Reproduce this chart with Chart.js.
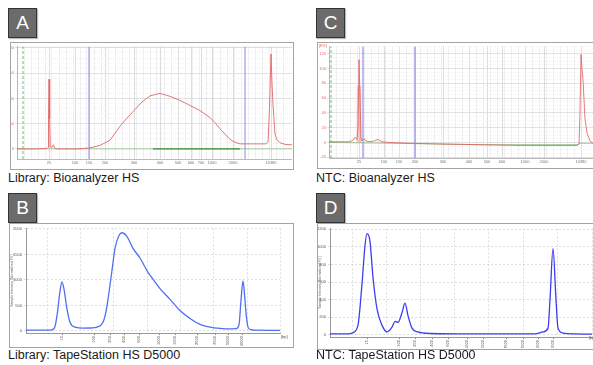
<!DOCTYPE html>
<html>
<head>
<meta charset="utf-8">
<script src="https://cdn.jsdelivr.net/npm/chart.js@4/dist/chart.umd.min.js"></script>
<style>
body{margin:0;background:#fff;font-family:"Liberation Sans",Arial,sans-serif;}
#wrap{position:relative;width:593px;height:365px;overflow:hidden;}
.tag{position:absolute;width:27px;height:28px;background:#6b6b6b;border:1px solid #333;color:#fff;font-size:19px;line-height:28px;text-align:center;box-shadow:1px 1px 1px #bbb;}
.frame{position:absolute;border:1px solid #a4a4a4;background:#fff;}
.cap{position:absolute;font-size:12.5px;color:#1a1a1a;white-space:nowrap;}
.tiny{position:absolute;font-size:4px;white-space:nowrap;}
canvas{position:absolute;}
</style>
</head>
<body>
<div id="wrap">
  <div class="tag" style="left:8px;top:8px">A</div>
  <div class="tag" style="left:316px;top:8px">C</div>
  <div class="tag" style="left:8px;top:193px">B</div>
  <div class="tag" style="left:316px;top:193px">D</div>

  <div class="frame" style="left:10px;top:42px;width:282px;height:126px"></div>
  <div class="frame" style="left:317px;top:42px;width:280px;height:125px"></div>
  <div class="frame" style="left:9px;top:223px;width:283px;height:123px"></div>
  <div class="frame" style="left:317px;top:223px;width:280px;height:125px"></div>

  <canvas id="chartA" width="281" height="125" style="left:11px;top:43px"></canvas>
  <canvas id="chartC" width="275" height="124" style="left:318px;top:43px"></canvas>
  <canvas id="chartB" width="282" height="122" style="left:10px;top:224px"></canvas>
  <canvas id="chartD" width="275" height="124" style="left:318px;top:224px"></canvas>

  <div class="tiny" style="left:319px;top:43px;color:#e06060">[FU]</div>
  <div class="tiny" style="left:281px;top:334px;color:#555">[bp]</div>
  <div class="tiny" style="left:589px;top:335px;color:#555">[bp]</div>

  <div class="cap" style="left:8px;top:171px">Library: Bioanalyzer HS</div>
  <div class="cap" style="left:316px;top:171px">NTC: Bioanalyzer HS</div>
  <div class="cap" style="left:8px;top:348px">Library: TapeStation HS D5000</div>
  <div class="cap" style="left:316px;top:348px">NTC: TapeStation HS D5000</div>
</div>
<script>
// x values are migration positions, y values are FU

// A - library on Bioanalyzer HS
const libBa = [[0,0],[20,0],[30,1],[31,3],[31.5,70],[32,138],[32.7,60],[33.3,4],[35,3],[36.5,8],[37.5,2],[40,0],[60,0],
  [73,2],[83,7],[93,17],[103,45],[110,61],[117,76],[125,93],[133,105],[143,110],[153,104],[163,96],[173,86],[183,76],
  [193,62],[198,52],[203,40],[208,29],[213,19],[218,13],[223,10],[235,10],[249,10],[251,14],[252.5,80],[254,188],
  [255,130],[256,87],[258,29],[260,18],[263,12],[268,9],[275,8]]
const baseA = [[0,0],[275,0]]
const regionA = [[136,0],[223,0]]
const markA = [72, 228]
const startA = 6
const tickPosA = [32,58,72,88,117,143,161,174,184,195,216,254]
const tickLabA = ['25','100','150','200','300','400','500','600','700','1000','2000','10380']
const yTickA = [0,50,100,150,200]

// C - NTC on Bioanalyzer HS
const ntcBa = [[0,1],[10,1],[20,1],[24,3],[26,7],[28,4],[29,20],[30,112],[31,60],[32,6],[33,2],[35,5],[37,2],[40,1],
  [45,2],[49,4],[53,1],[60,0],[80,-1],[110,-2],[150,-3],[190,-4],[230,-4],[248,-4],[250,-2],[251,40],[252,119],
  [253,100],[254,85],[256,32],[258,13],[261,2],[264,-1]]
const ntcFill = [[27.7,0],[28.3,76],[31.3,76],[31.7,0]]
const baseC = [[0,0],[60,-1],[150,-3],[248,-3],[252,-1],[264,-1]]
const markC = [34, 86]
const startC = 2
const tickPosC = [30,55,70,86,114,140,158,173,196,215,252]
const tickLabC = ['25','100','150','200','300','400','500','600','1000','2000','10380']
const yTickC = [-20,0,20,40,60,80,100,120]

// B - library on TapeStation HS D5000
const libTs = [[0,15],[20,15],[26,20],[29,90],[31,300],[34,775],[36,962],[38,820],[41,430],[44,170],[49,75],[57,55],
  [65,58],[71,75],[77,170],[80,380],[82,620],[86,1190],[89,1620],[93,1870],[96,1925],[101,1850],[107,1620],[114,1430],
  [122,1150],[124,1095],[134,830],[144,620],[154,400],[164,245],[174,130],[184,75],[194,50],[204,40],[210,45],
  [213,120],[215,600],[217,980],[219,600],[220,360],[222,75],[225,25],[229,15],[254,12]]
const tickPosB = [36,68,84,98,113,133,149,171,189,202,216]
const gridB = [21,54,87,121,154,187,221,254]
const yTickB = [0,500,1000,1500,2000]

// D - NTC on TapeStation HS D5000
const ntcTs = [[0,10],[18,10],[23,25],[28,110],[32,580],[35,1015],[37,1150],[40,1060],[43,655],[47,295],[52,110],
  [57,33],[62,87],[65,153],[68,142],[72,250],[75,360],[78,218],[82,76],[88,33],[100,15],[150,10],[205,10],[213,33],
  [218,76],[220,400],[223,980],[226,400],[228,76],[233,20],[245,10],[262,8]]
const tickPosD = [37,69,85,102,118,137,153,176,193,208,223]
const gridD = [22,56,90,124,158,193,227,262]
const yTickD = [0,200,400,600,800,1000,1200]

const tickLabTs = ['15','100','250','400','600','1000','1500','2500','3500','5000','10000']


const pts = a => a.map(p => ({x: p[0], y: p[1]}))
const setTicks = vals => s => { s.ticks = vals.map(v => ({value: v})) }
const line = (data, color, width, order, extra) => Object.assign({
  data: pts(data), borderColor: color, borderWidth: width, pointRadius: 0, tension: 0, order: order
}, extra || {})
const vline = (x, y0, y1, color, width, dash) => ({
  data: [{x: x, y: y0}, {x: x, y: y1}], borderColor: color, borderWidth: width,
  borderDash: dash || [], pointRadius: 0, order: 6
})

function baOptions(xmax, ymin, ymax, tickPos, tickLab, yTicks, yw, minorY){
  return {
    responsive: false,
    animation: false,
    layout: {padding: {top: 1, right: 0, left: 0, bottom: 0}},
    plugins: {legend: {display: false}, tooltip: {enabled: false}},
    scales: {
      x: {
        type: 'linear', min: 0, max: xmax,
        afterBuildTicks: setTicks(tickPos),
        afterFit: s => { s.height = 9 },
        ticks: {autoSkip: false, maxRotation: 0, padding: 1, color: '#777', font: {size: 4},
          callback: v => tickLab[tickPos.indexOf(v)]},
        grid: {color: '#cbcbd3', lineWidth: 0.7, drawTicks: false},
        border: {color: '#bbb'}
      },
      xm: {
        type: 'linear', min: 0, max: xmax, position: 'bottom',
        afterFit: s => { s.height = 0 },
        ticks: {display: false, stepSize: 7},
        grid: {color: '#e6e6ea', lineWidth: 0.6, drawTicks: false},
        border: {display: false}
      },
      y: {
        min: ymin, max: ymax,
        afterBuildTicks: setTicks(yTicks),
        afterFit: s => { s.width = yw },
        ticks: {padding: 1, color: '#e06a6a', font: {size: 4}, callback: v => String(v)},
        grid: {color: '#d0d0d0', lineWidth: 0.7, drawTicks: true, tickLength: 2},
        border: {color: '#e8a0a0', width: 1}
      },
      ym: {
        min: ymin, max: ymax, position: 'left',
        afterFit: s => { s.width = 0 },
        ticks: {display: false, stepSize: minorY},
        grid: {color: '#ececec', lineWidth: 0.6, drawTicks: false},
        border: {display: false, dash: [1, 1]}
      }
    }
  }
}

function tsOptions(xmax, ymin, ymax, tickPos, grid, yTicks, yw, xh, padRight){
  return {
    responsive: false,
    animation: false,
    layout: {padding: {top: 1, right: padRight, left: 0, bottom: 0}},
    plugins: {legend: {display: false}, tooltip: {enabled: false}},
    scales: {
      x: {
        type: 'linear', min: 0, max: xmax,
        afterBuildTicks: setTicks(tickPos),
        afterFit: s => { s.height = xh },
        ticks: {autoSkip: false, minRotation: 90, maxRotation: 90, padding: 1, color: '#555', font: {size: 4},
          callback: v => tickLabTs[tickPos.indexOf(v)]},
        grid: {drawOnChartArea: false, tickLength: 2, color: '#888'},
        border: {color: '#999'}
      },
      xg: {
        type: 'linear', min: 0, max: xmax, position: 'bottom',
        afterBuildTicks: setTicks(grid),
        afterFit: s => { s.height = 0 },
        ticks: {display: false},
        grid: {color: '#cfcfcf', lineWidth: 0.7, drawTicks: false},
        border: {display: false, dash: [2, 2]}
      },
      y: {
        min: ymin, max: ymax,
        afterBuildTicks: setTicks(yTicks),
        afterFit: s => { s.width = yw },
        title: {display: true, text: 'Sample Intensity [Normalized FU]', font: {size: 3.5}, color: '#666', padding: 0},
        ticks: {padding: 2, color: '#555', font: {size: 4}, callback: v => String(v)},
        grid: {color: '#cfcfcf', lineWidth: 0.7, tickLength: 2},
        border: {color: '#999', dash: [2, 2]}
      }
    }
  }
}

// A
new Chart(document.getElementById('chartA'), {
  type: 'line',
  data: {datasets: [
    line(libBa, '#e06868', 0.9, 0),
    line(baseA, '#8fc88f', 0.8, 2),
    line(regionA, '#3c8f3c', 1.4, 1),
    vline(markA[0], -20, 203, '#8c8ce0', 1),
    vline(markA[1], -20, 203, '#8c8ce0', 1),
    vline(startA, -20, 203, '#4caf50', 0.8, [3, 2])
  ]},
  options: baOptions(275, -20, 203, tickPosA, tickLabA, yTickA, 6, 10)
})

// C
new Chart(document.getElementById('chartC'), {
  type: 'line',
  data: {datasets: [
    line(ntcBa, '#e05a5a', 0.8, 0),
    line(ntcFill, 'rgba(240,150,150,0.6)', 0.5, 1, {fill: 'origin', backgroundColor: 'rgba(240,160,160,0.55)'}),
    line(baseC, '#7cbf7c', 0.8, 2),
    vline(markC[0], -21, 130, '#9090e6', 1.2),
    vline(markC[1], -21, 130, '#9090e6', 1.2),
    vline(startC, -21, 130, '#4caf50', 0.8, [3, 2])
  ]},
  options: baOptions(264, -21, 130, tickPosC, tickLabC, yTickC, 11, 5)
})

// B
new Chart(document.getElementById('chartB'), {
  type: 'line',
  data: {datasets: [
    line(libTs, '#4f6ff0', 1.3, 0, {cubicInterpolationMode: 'monotone'})
  ]},
  options: tsOptions(254, -40, 2010, tickPosB, gridB, yTickB, 16, 13, 12)
})

// D
new Chart(document.getElementById('chartD'), {
  type: 'line',
  data: {datasets: [
    line(ntcTs, '#3c3cf0', 1.3, 0, {cubicInterpolationMode: 'monotone'})
  ]},
  options: tsOptions(262, -25, 1210, tickPosD, gridD, yTickD, 12, 11, 1)
})
</script>
</body>
</html>
